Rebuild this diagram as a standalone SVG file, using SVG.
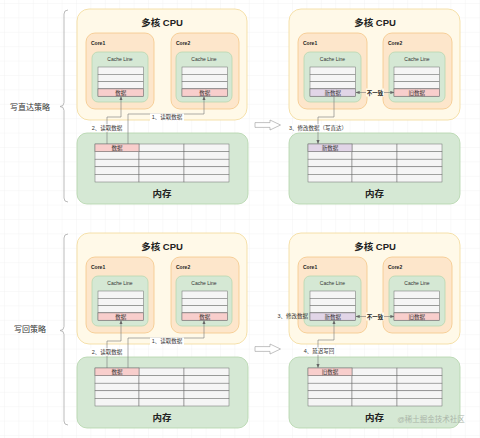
<svg xmlns="http://www.w3.org/2000/svg" xmlns:xlink="http://www.w3.org/1999/xlink" width="480" height="438" viewBox="0 0 480 438">
<style>
text{font-family:"Liberation Sans","Noto Sans CJK SC",sans-serif;fill:#222}
.cpu{fill:#fff9e8;stroke:#f3d998;stroke-width:0.8}
.core{fill:#fde6cb;stroke:#f4c788;stroke-width:0.8}
.cache{fill:#d5e8d4;stroke:#b7d7b0;stroke-width:0.8}
.mem{fill:#d5e8d4;stroke:#b3d4a9;stroke-width:0.8}
.cell{fill:#f5f5f5;stroke:#6b6b6b;stroke-width:0.5}
.red{fill:#f8cecc;stroke:#6b6b6b;stroke-width:0.5}
.pur{fill:#e1d5e7;stroke:#6b6b6b;stroke-width:0.5}
.title{font-size:9.5px;font-weight:bold;text-anchor:middle}
.corelbl{font-size:5px;font-weight:bold}
.cachelbl{font-size:5px;text-anchor:middle;fill:#333}
.ct{font-size:5.5px;text-anchor:middle;dominant-baseline:central;fill:#333}
.lbl{font-size:5.5px;text-anchor:middle;dominant-baseline:central;fill:#333}
.side{font-size:8px;text-anchor:middle;dominant-baseline:central;fill:#333}
.bg{fill:#ffffff}
.conn path{fill:none;stroke:#777;stroke-width:0.6}
.brace{fill:none;stroke:#aaa;stroke-width:0.8}
</style>
<defs>
<pattern id="grid" width="14.4" height="14.4" patternUnits="userSpaceOnUse" x="4" y="3">
<path d="M14.4 0H0V14.4" fill="none" stroke="#ececec" stroke-width="0.6"/>
</pattern>
<marker id="arr" viewBox="0 0 6 6" refX="5.5" refY="3" markerWidth="4" markerHeight="4" orient="auto-start-reverse" markerUnits="userSpaceOnUse">
<path d="M0,0.6 L6,3 L0,5.4 Z" fill="#666"/>
</marker>
<g id="ctab">
<rect class="cell" x="0" y="0" width="45.5" height="7.3"/>
<rect class="cell" x="0" y="7.3" width="45.5" height="7.3"/>
<rect class="cell" x="0" y="14.6" width="45.5" height="7.3"/>
<rect class="cell" x="0" y="21.9" width="45.5" height="7.3"/>
</g>
<g id="mtab">
<rect class="cell" x="0" y="0" width="44" height="7.6"/><rect class="cell" x="44" y="0" width="45" height="7.6"/><rect class="cell" x="89" y="0" width="45" height="7.6"/>
<rect class="cell" x="0" y="7.6" width="44" height="7.6"/><rect class="cell" x="44" y="7.6" width="45" height="7.6"/><rect class="cell" x="89" y="7.6" width="45" height="7.6"/>
<rect class="cell" x="0" y="15.2" width="44" height="7.6"/><rect class="cell" x="44" y="15.2" width="45" height="7.6"/><rect class="cell" x="89" y="15.2" width="45" height="7.6"/>
<rect class="cell" x="0" y="22.8" width="44" height="7.6"/><rect class="cell" x="44" y="22.8" width="45" height="7.6"/><rect class="cell" x="89" y="22.8" width="45" height="7.6"/>
<rect class="cell" x="0" y="30.4" width="44" height="7.6"/><rect class="cell" x="44" y="30.4" width="45" height="7.6"/><rect class="cell" x="89" y="30.4" width="45" height="7.6"/>
</g>
</defs>
<rect width="480" height="438" fill="#ffffff"/>
<rect width="480" height="438" fill="url(#grid)"/>

<!-- ===== 写直达策略 ===== -->
<g id="label-wt">
<path class="brace" d="M68,10 Q64,10 64,14 V102.5 Q64,106.5 60,106.5 Q64,106.5 64,110.5 V198 Q64,202 68,202"/>
<text class="side" x="30" y="107">写直达策略</text>
</g>

<g id="cpu-wt-a">
<rect class="cpu" x="77" y="9" width="170" height="111" rx="12"/>
<text class="title" x="162" y="25.5">多核 CPU</text>
</g>
<g id="core1-wt-a">
<rect class="core" x="86" y="33" width="68" height="76" rx="9"/>
<text class="corelbl" x="91" y="45">Core1</text>
<rect class="cache" x="92" y="52" width="56" height="50" rx="6"/>
<text class="cachelbl" x="120" y="61">Cache Line</text>
<use xlink:href="#ctab" x="98" y="67"/>
<rect class="red" x="98" y="88.9" width="45.5" height="7.3"/>
<text class="ct" x="120.7" y="92.6">数据</text>
</g>
<g id="core2-wt-a">
<rect class="core" x="171" y="33" width="68" height="76" rx="9"/>
<text class="corelbl" x="176" y="45">Core2</text>
<rect class="cache" x="176" y="52" width="56" height="50" rx="6"/>
<text class="cachelbl" x="204" y="61">Cache Line</text>
<use xlink:href="#ctab" x="182" y="67"/>
<rect class="red" x="182" y="88.9" width="45.5" height="7.3"/>
<text class="ct" x="204.7" y="92.6">数据</text>
</g>
<g id="mem-wt-a">
<rect class="mem" x="77" y="133" width="171" height="71" rx="10"/>
<use xlink:href="#mtab" x="95" y="144"/>
<rect class="red" x="95" y="144" width="44" height="7.6"/>
<text class="ct" x="117" y="147.9">数据</text>
<text class="title" x="162" y="196.5">内存</text>
</g>

<g id="step-arrow-wt">
<polygon points="255,122.6 270,122.6 270,120 280.5,125 270,130 270,127.4 255,127.4" fill="#fff" stroke="#999" stroke-width="0.6"/>
</g>

<g id="cpu-wt-b">
<rect class="cpu" x="289" y="9" width="171" height="111" rx="12"/>
<text class="title" x="375" y="25.5">多核 CPU</text>
</g>
<g id="core1-wt-b">
<rect class="core" x="298" y="33" width="69" height="76" rx="9"/>
<text class="corelbl" x="303" y="45">Core1</text>
<rect class="cache" x="304" y="52" width="57" height="50" rx="6"/>
<text class="cachelbl" x="332.5" y="61">Cache Line</text>
<use xlink:href="#ctab" x="310" y="67"/>
<rect class="pur" x="310" y="88.9" width="45.5" height="7.3"/>
<text class="ct" x="332.7" y="92.6">新数据</text>
</g>
<g id="core2-wt-b">
<rect class="core" x="383" y="33" width="69" height="76" rx="9"/>
<text class="corelbl" x="388" y="45">Core2</text>
<rect class="cache" x="389" y="52" width="56" height="50" rx="6"/>
<text class="cachelbl" x="417" y="61">Cache Line</text>
<use xlink:href="#ctab" x="394" y="67"/>
<rect class="red" x="394" y="88.9" width="45.5" height="7.3"/>
<text class="ct" x="416.7" y="92.6">旧数据</text>
</g>
<g id="mem-wt-b">
<rect class="mem" x="289" y="133" width="171" height="71" rx="10"/>
<use xlink:href="#mtab" x="308" y="144"/>
<rect class="pur" x="308" y="144" width="44" height="7.6"/>
<text class="ct" x="330" y="147.9">新数据</text>
<text class="title" x="374.5" y="196.5">内存</text>
</g>

<!-- ===== 写回策略 ===== -->
<g id="label-wb">
<path class="brace" d="M68,234 Q64,234 64,238 V326.5 Q64,330.5 60,330.5 Q64,330.5 64,334.5 V421 Q64,425 68,425"/>
<text class="side" x="30" y="329">写回策略</text>
</g>

<g id="cpu-wb-a">
<rect class="cpu" x="77" y="233" width="170" height="111" rx="12"/>
<text class="title" x="162" y="249.5">多核 CPU</text>
</g>
<g id="core1-wb-a">
<rect class="core" x="86" y="257" width="68" height="76" rx="9"/>
<text class="corelbl" x="91" y="269">Core1</text>
<rect class="cache" x="92" y="276" width="56" height="50" rx="6"/>
<text class="cachelbl" x="120" y="285">Cache Line</text>
<use xlink:href="#ctab" x="98" y="291"/>
<rect class="red" x="98" y="312.9" width="45.5" height="7.3"/>
<text class="ct" x="120.7" y="316.6">数据</text>
</g>
<g id="core2-wb-a">
<rect class="core" x="171" y="257" width="68" height="76" rx="9"/>
<text class="corelbl" x="176" y="269">Core2</text>
<rect class="cache" x="176" y="276" width="56" height="50" rx="6"/>
<text class="cachelbl" x="204" y="285">Cache Line</text>
<use xlink:href="#ctab" x="182" y="291"/>
<rect class="red" x="182" y="312.9" width="45.5" height="7.3"/>
<text class="ct" x="204.7" y="316.6">数据</text>
</g>
<g id="mem-wb-a">
<rect class="mem" x="77" y="357" width="171" height="71" rx="10"/>
<use xlink:href="#mtab" x="95" y="368"/>
<rect class="red" x="95" y="368" width="44" height="7.6"/>
<text class="ct" x="117" y="371.9">数据</text>
<text class="title" x="162" y="420.5">内存</text>
</g>

<g id="step-arrow-wb">
<polygon points="255,346.6 270,346.6 270,344 280.5,349 270,354 270,351.4 255,351.4" fill="#fff" stroke="#999" stroke-width="0.6"/>
</g>

<g id="cpu-wb-b">
<rect class="cpu" x="289" y="233" width="171" height="111" rx="12"/>
<text class="title" x="375" y="249.5">多核 CPU</text>
</g>
<g id="core1-wb-b">
<rect class="core" x="298" y="257" width="69" height="76" rx="9"/>
<text class="corelbl" x="303" y="269">Core1</text>
<rect class="cache" x="304" y="276" width="57" height="50" rx="6"/>
<text class="cachelbl" x="332.5" y="285">Cache Line</text>
<use xlink:href="#ctab" x="310" y="291"/>
<rect class="pur" x="310" y="312.9" width="45.5" height="7.3"/>
<text class="ct" x="332.7" y="316.6">新数据</text>
</g>
<g id="core2-wb-b">
<rect class="core" x="383" y="257" width="69" height="76" rx="9"/>
<text class="corelbl" x="388" y="269">Core2</text>
<rect class="cache" x="389" y="276" width="56" height="50" rx="6"/>
<text class="cachelbl" x="417" y="285">Cache Line</text>
<use xlink:href="#ctab" x="394" y="291"/>
<rect class="red" x="394" y="312.9" width="45.5" height="7.3"/>
<text class="ct" x="416.7" y="316.6">旧数据</text>
</g>
<g id="mem-wb-b">
<rect class="mem" x="289" y="357" width="171" height="71" rx="10"/>
<use xlink:href="#mtab" x="308" y="368"/>
<rect class="red" x="308" y="368" width="44" height="7.6"/>
<text class="ct" x="330" y="371.9">旧数据</text>
<text class="title" x="374.5" y="420.5">内存</text>
<text x="431" y="419" style="font-size:7.5px;text-anchor:middle;dominant-baseline:central;fill:#aab5a8">@稀土掘金技术社区</text>
</g>

<!-- ===== connectors ===== -->
<g id="connectors" class="conn">
<path d="M107,144 V117 H121 V96.6" marker-end="url(#arr)"/>
<path d="M128,144 V114 H204 V96.6" marker-end="url(#arr)"/>
<path d="M334,96.2 V117 H318 V143.6" marker-end="url(#arr)"/>
<path d="M356,92.5 H394" marker-start="url(#arr)" marker-end="url(#arr)"/>
<path d="M107,368 V341 H121 V320.6" marker-end="url(#arr)"/>
<path d="M128,368 V338 H204 V320.6" marker-end="url(#arr)"/>
<path d="M356,316.5 H394" marker-start="url(#arr)" marker-end="url(#arr)"/>
<path d="M334,320.6 V340 H318 V367.6" marker-start="url(#arr)" marker-end="url(#arr)"/>
<rect class="bg" x="150" y="113.5" width="34" height="7.5"/>
<text class="lbl" x="167" y="117.3">1、读取数据</text>
<rect class="bg" x="90" y="124.3" width="34" height="7.5"/>
<text class="lbl" x="107" y="128">2、读取数据</text>
<rect class="bg" x="287" y="124.3" width="62" height="7.5"/>
<text class="lbl" x="318" y="128">3、修改数据（写直达）</text>
<rect x="366" y="88.5" width="18" height="8" fill="#fff9e8"/>
<text class="lbl" x="375" y="92.5" style="font-weight:bold;fill:#222">不一致</text>
<rect class="bg" x="150" y="337.5" width="34" height="7.5"/>
<text class="lbl" x="167" y="341.3">1、读取数据</text>
<rect class="bg" x="90" y="348.3" width="34" height="7.5"/>
<text class="lbl" x="107" y="352">2、读取数据</text>
<rect x="366" y="312.5" width="18" height="8" fill="#fff9e8"/>
<text class="lbl" x="375" y="316.5" style="font-weight:bold;fill:#222">不一致</text>
<text class="lbl" x="308" y="316.3" style="text-anchor:end">3、修改数据</text>
<rect class="bg" x="302" y="347.3" width="34" height="7.5"/>
<text class="lbl" x="319" y="351">4、延迟写回</text>
</g>
</svg>
